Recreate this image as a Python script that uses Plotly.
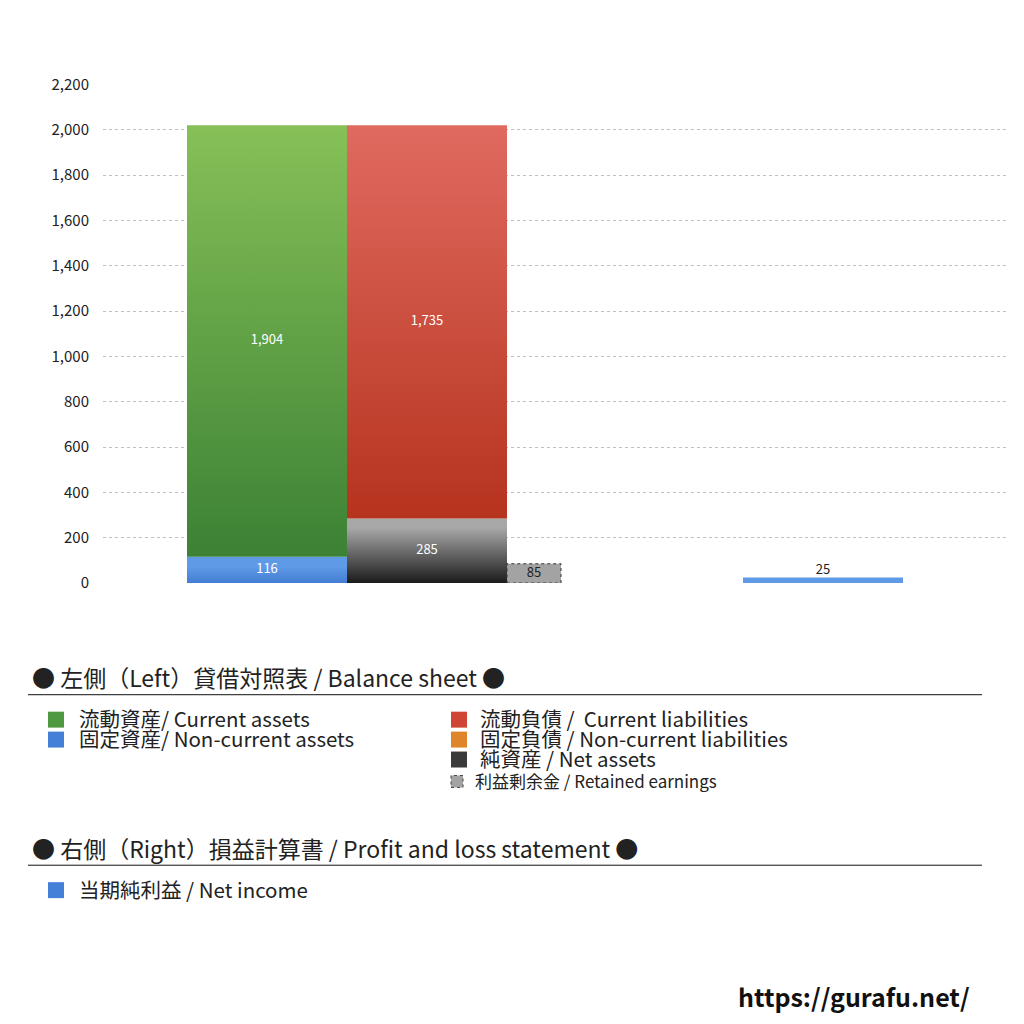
import plotly.graph_objects as go

# ---- data ----
current_assets = 1904
noncurrent_assets = 116
current_liabilities = 1735
noncurrent_liabilities = 0
net_assets = 285
retained_earnings = 85
net_income = 25
y_ticks = [0, 200, 400, 600, 800, 1000, 1200, 1400, 1600, 1800, 2000, 2200]

# ---- layout constants ----
FONT = "Noto Sans CJK JP, Noto Sans, sans-serif"
SIZE = 1008
OFF_X = 8
OFF_Y = 17.3
SPAN_Y = 989.9
LEFT_X0 = 84
BAR_W = 160
RE_W = 54
RIGHT_X0 = 640

fig = go.Figure()

def seg(x0, w, base, val, dark, light):
    x1 = x0 + w
    top = base + val
    fig.add_trace(go.Scatter(
        x=[x0, x1, x1, x0, x0], y=[base, base, top, top, base],
        mode="lines", fill="toself",
        fillgradient=dict(type="vertical", start=base, stop=top,
                          colorscale=[[0, dark], [1, light]]),
        line=dict(width=0, color="rgba(0,0,0,0)"),
        hoverinfo="skip", showlegend=False))

# left side: assets
seg(LEFT_X0, BAR_W, 0, noncurrent_assets, "#2f6bc4", "#5f9ae6")
seg(LEFT_X0, BAR_W, noncurrent_assets, current_assets, "#3a8034", "#86c057")
# liabilities / net assets
seg(LEFT_X0 + BAR_W, BAR_W, 0, net_assets, "#000000", "#a8a8a8")
seg(LEFT_X0 + BAR_W, BAR_W, net_assets, current_liabilities, "#b5321c", "#e06a60")
# retained earnings (dotted border)
x_re = LEFT_X0 + 2 * BAR_W
fig.add_trace(go.Scatter(
    x=[x_re, x_re + RE_W, x_re + RE_W, x_re, x_re],
    y=[0, 0, retained_earnings, retained_earnings, 0],
    mode="lines", fill="toself", fillcolor="#a3a3a3",
    line=dict(width=1, color="#333333", dash="dot"),
    hoverinfo="skip", showlegend=False))
# right side: net income
seg(RIGHT_X0, BAR_W, 0, net_income, "#2f6bc4", "#5f9ae6")

# value labels
fig.add_trace(go.Scatter(
    x=[LEFT_X0 + BAR_W / 2, LEFT_X0 + BAR_W / 2, LEFT_X0 + 1.5 * BAR_W, LEFT_X0 + 1.5 * BAR_W],
    y=[noncurrent_assets / 2, noncurrent_assets + current_assets / 2,
       net_assets / 2, net_assets + current_liabilities / 2],
    text=[f"{noncurrent_assets:,}", f"{current_assets:,}", f"{net_assets:,}", f"{current_liabilities:,}"],
    mode="text", textfont=dict(color="white", size=13, family=FONT),
    hoverinfo="skip", showlegend=False))
fig.add_trace(go.Scatter(
    x=[x_re + RE_W / 2], y=[retained_earnings / 2], text=[f"{retained_earnings:,}"],
    mode="text", textfont=dict(color="#222", size=13, family=FONT),
    hoverinfo="skip", showlegend=False))
fig.add_trace(go.Scatter(
    x=[RIGHT_X0 + BAR_W / 2], y=[net_income], text=[f"{net_income:,}"],
    mode="text", textposition="top center", textfont=dict(color="#222", size=13, family=FONT),
    hoverinfo="skip", showlegend=False))

def PX(px):
    return (px - OFF_X) / SIZE

def PY(py):
    return 1 - (py - OFF_Y) / SPAN_Y

annotations = []
shapes = []

def text(px, py, s, size, color="#222", anchor="left", weight="normal", yanchor="middle", y=None):
    annotations.append(dict(x=PX(px), y=PY(py) if y is None else y, xref="paper", yref="paper",
                            text=s, showarrow=False, xanchor=anchor, yanchor=yanchor, borderpad=0,
                            font=dict(size=size, color=color, family=FONT, weight=weight)))

def square(px0, py0, size, color, dotted=False):
    shapes.append(dict(type="rect", xref="paper", yref="paper",
                       x0=PX(px0), x1=PX(px0 + size), y0=PY(py0 + size), y1=PY(py0),
                       fillcolor=color,
                       line=dict(width=1 if dotted else 0, color="#444", dash="dot")))

def hline(px0, px1, py):
    shapes.append(dict(type="line", xref="paper", yref="paper",
                       x0=PX(px0), x1=PX(px1), y0=PY(py), y1=PY(py),
                       line=dict(width=1, color="#111")))

text(31, 676, "● 左側（Left）貸借対照表 / Balance sheet ●", 23)
hline(28, 982, 694)
square(48, 711, 16, "#4f9a40"); text(78, 717, "流動資産/ Current assets", 20.5)
square(48, 731, 16, "#4580d8"); text(78, 737, "固定資産/ Non-current assets", 20.5)
square(451, 711, 16, "#cf4535"); text(479, 717, "流動負債 /  Current liabilities", 20.5)
square(451, 731, 16, "#e0842c"); text(479, 737, "固定負債 / Non-current liabilities", 20.5)
square(451, 751, 16, "#3a3a3a"); text(479, 757, "純資産 / Net assets", 20.5)
square(451, 775, 12, "#a3a3a3", dotted=True); text(474, 780, "利益剰余金 / Retained earnings", 17)

text(31, 848, "● 右側（Right）損益計算書 / Profit and loss statement ●", 23)
hline(28, 982, 865)
square(48, 882, 16, "#4580d8"); text(78, 889, "当期純利益 / Net income", 20.5)

text(971, 1004, "https://gurafu.net/", 25, color="#111", anchor="right", weight="bold",
     yanchor="bottom", y=-0.008)

fig.update_layout(
    width=SIZE, height=SIZE,
    margin=dict(l=0, r=0, t=0, b=0),
    paper_bgcolor="white", plot_bgcolor="white",
    showlegend=False,
    font=dict(family=FONT, color="#333"),
    xaxis=dict(domain=[PX(103), PX(1007)], range=[0, 904], visible=False,
               showgrid=False, zeroline=False, fixedrange=True),
    yaxis=dict(domain=[PY(582), PY(82)], range=[0, 2200],
               tickvals=y_ticks, ticktext=[f"{v:,}" for v in y_ticks],
               tickfont=dict(size=15, color="#222", family=FONT),
               showgrid=True, gridcolor="#c0c0c0", griddash="dot", gridwidth=1,
               zeroline=False, showline=False, ticks="", ticklabelstandoff=13,
               fixedrange=True),
    annotations=annotations, shapes=shapes,
)

fig.write_html("out.html")
